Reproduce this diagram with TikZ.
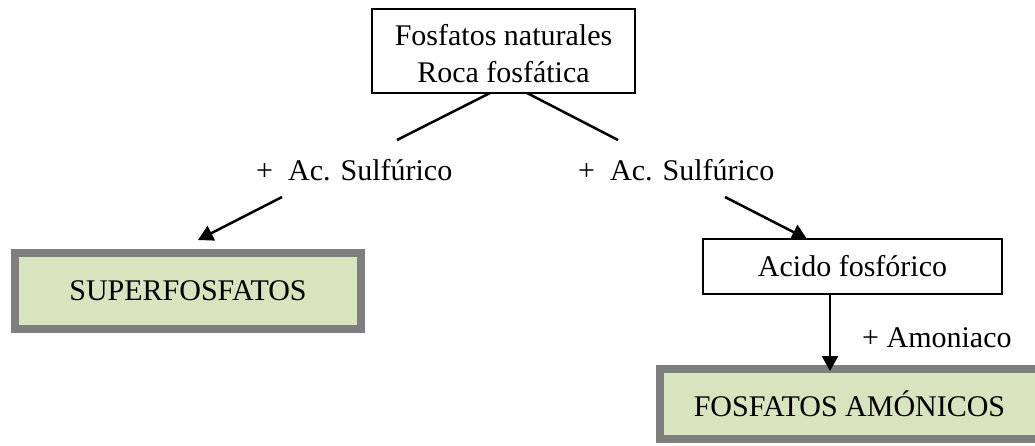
\documentclass[tikz,border=0pt]{standalone}
\usepackage{fontspec}
\setmainfont{Liberation Serif}
\usetikzlibrary{arrows.meta}
\definecolor{fgray}{HTML}{7F7F7F}
\definecolor{fgreen}{HTML}{D7E4BD}
\tikzset{
  plainbox/.style={draw=black, line width=1.6pt, fill=white, inner sep=0pt, outer sep=0pt},
  framebox/.style={fill=fgreen, draw=fgray, line width=8pt, inner sep=0pt, outer sep=0pt,
    append after command={
      \pgfextra{\draw[fgray, line width=2.6pt]
        ([shift={(6pt,-6pt)}]\tikzlastnode.north west) rectangle
        ([shift={(-6pt,6pt)}]\tikzlastnode.south east);}
    }},
  lbl/.style={inner sep=0pt, anchor=west},
  conn/.style={line width=2.5pt},
  arr/.style={line width=2.5pt, -{Triangle[length=15pt,width=16pt]}},
  every node/.style={font=\fontsize{30}{37}\selectfont}
}
\begin{document}
\begin{tikzpicture}[x=1pt,y=-1pt]
\useasboundingbox (0,0) rectangle (1035,445);
% boxes
\node[plainbox, minimum width=263pt, minimum height=84pt, align=center, text height=63pt, text depth=0pt] (top) at (503.5,51) {Fosfatos naturales\\Roca fosfática};
\node[framebox, minimum width=346pt, minimum height=76pt] (super) at (188,291) {SUPERFOSFATOS};
\node[plainbox, minimum width=299pt, minimum height=55pt] (acido) at (852.5,266.5) {Acido fosfórico};
\node[framebox, minimum width=379pt, minimum height=70pt] (amon) at (849.5,404) {FOSFATOS AMÓNICOS};
% labels
\node[lbl] (lab1) at (256,170) {+~~Ac. Sulfúrico};
\node[lbl] (lab2) at (578,170) {+~~Ac. Sulfúrico};
\node[lbl] (lab3) at (862,338) {+ Amoniaco};
% free ends
\coordinate (c1) at (397,140);
\coordinate (c2) at (618,140);
\coordinate (c3) at (282,197);
\coordinate (c4) at (725,197);
% connectors
\draw[conn] ([xshift=-13.5pt]top.south) -- (c1);
\draw[conn] ([xshift=23.5pt]top.south) -- (c2);
\draw[arr] (c3) -- ([xshift=10pt,yshift=13pt]super.north);
\draw[arr] (c4) -- ([xshift=-45.5pt]acido.north);
\draw[arr] ([xshift=-22.5pt]acido.south) -- ([xshift=-19.5pt,yshift=-2pt]amon.north);
\end{tikzpicture}
\end{document}
